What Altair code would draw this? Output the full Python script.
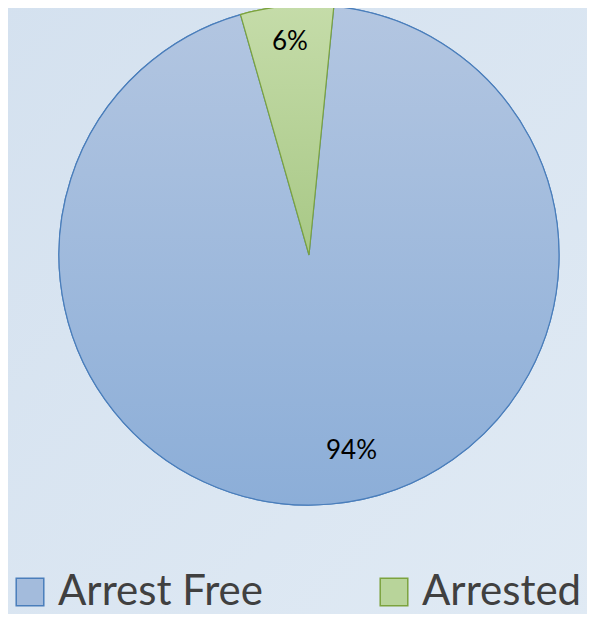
import math
import altair as alt
import pandas as pd

categories = ["Arrest Free", "Arrested"]
values = [94, 6]
labels = ["94%", "6%"]
fill_colors = ["#a3bbdc", "#b8d49a"]
stroke_colors = ["#4a7ebb", "#7ca33e"]

df = pd.DataFrame({"category": categories, "value": values, "label": labels, "ord": [0, 1]})

start = 5.7 * math.pi / 180
W, H = 579, 606
CX, CY = 301, 247
R = 250

grad_blue = alt.LinearGradient(gradient="linear", x1=0, y1=0, x2=0, y2=1,
                               stops=[alt.GradientStop(color="#b3c6e1", offset=0),
                                      alt.GradientStop(color="#8caed8", offset=1)])
grad_green = alt.LinearGradient(gradient="linear", x1=0, y1=0, x2=0, y2=1,
                                stops=[alt.GradientStop(color="#c5dca9", offset=0),
                                       alt.GradientStop(color="#a8c886", offset=1)])
grad_bg = alt.LinearGradient(gradient="linear", x1=0, y1=0, x2=1, y2=1,
                             stops=[alt.GradientStop(color="#d4e1ef", offset=0),
                                    alt.GradientStop(color="#e0eaf4", offset=1)])

bg = alt.Chart(df).transform_filter(alt.datum.ord == 0).mark_rect(fill=grad_bg).encode(
    x=alt.value(-10), x2=alt.value(W + 10), y=alt.value(-10), y2=alt.value(H + 10)
)

base = alt.Chart(df).encode(
    theta=alt.Theta("value:Q", stack=True, scale=alt.Scale(range=[start, start + 2 * math.pi])),
    order=alt.Order("ord:Q"),
    x=alt.value(CX),
    y=alt.value(CY),
)

legend_cfg = alt.Legend(
    title=None, orient="none", legendX=1, legendY=563, direction="horizontal", columns=2,
    symbolType="square", symbolSize=760, symbolStrokeWidth=1.5, labelFontSize=42,
    labelFont="Lato", labelColor="#404040", labelOffset=7, columnPadding=110,
    symbolOpacity=1, labelLimit=500,
)

arcs = base.mark_arc(outerRadius=R, strokeWidth=1.2).encode(
    color=alt.Color("category:N", scale=alt.Scale(domain=categories, range=fill_colors), legend=legend_cfg),
    stroke=alt.Stroke("category:N", scale=alt.Scale(domain=categories, range=stroke_colors), legend=legend_cfg),
)

grad_arcs = base.mark_arc(outerRadius=R, strokeWidth=1.2).encode(
    fill=alt.condition(alt.datum.category == "Arrested", alt.value(grad_green), alt.value(grad_blue)),
    stroke=alt.condition(alt.datum.category == "Arrested", alt.value(stroke_colors[1]), alt.value(stroke_colors[0])),
)

txt_small = base.transform_calculate(
    lab="datum.category == 'Arrested' ? datum.label : ''"
).mark_text(radius=214, fontSize=26, font="Lato", color="#000000").encode(text="lab:N")

txt_big = base.transform_calculate(
    lab="datum.category == 'Arrest Free' ? datum.label : ''"
).mark_text(radius=197, dx=25, fontSize=26, font="Lato", color="#000000").encode(text="lab:N")

chart = alt.layer(bg, arcs, grad_arcs, txt_small, txt_big).properties(
    width=W, height=H, autosize=alt.AutoSizeParams(type="none"), padding=0,
    background="#dae6f1",
).configure_view(stroke=None)

chart.save("out.html", embed_options={"renderer": "svg", "actions": False})
